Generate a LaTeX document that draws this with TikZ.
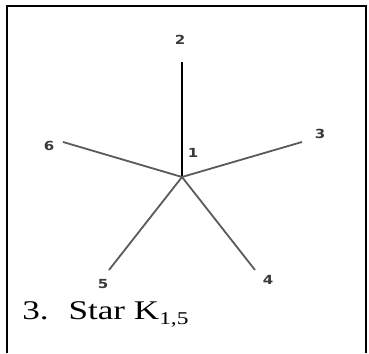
\documentclass[tikz,border=0pt]{standalone}
\usepackage{fontspec}
\setmainfont{Liberation Serif}
\newfontfamily\labfont{DejaVu Sans}
\definecolor{edgegray}{HTML}{5A5A5A}
\definecolor{labgray}{HTML}{3A3A3A}
\begin{document}
\begin{tikzpicture}[x=1pt,y=1pt,
  frame/.style={line width=2pt,black},
  edgeA/.style={line width=1.8pt,black},
  edgeB/.style={line width=1.8pt,edgegray},
  vlabel/.style={font=\labfont\bfseries\fontsize{12.5}{14}\selectfont,text=labgray,inner sep=0pt,xscale=1.2},
  caption/.style={font=\fontsize{27}{30}\selectfont,inner sep=0pt,anchor=base west,xscale=1.3}]
\useasboundingbox (0,0) rectangle (369,353);
\draw[frame] (7,0) -- (7,347) -- (366,347) -- (366,0);
% vertices (y = 353 - pixel row)
\coordinate (c) at (182,176);
\coordinate (n2) at (182,291);
\coordinate (n3) at (302,211);
\coordinate (n4) at (255,83);
\coordinate (n5) at (109,83);
\coordinate (n6) at (63,211);
% edges
\draw[edgeA] (c) -- (n2);
\draw[edgeB] (c) -- (n3);
\draw[edgeB] (c) -- (n4);
\draw[edgeB] (c) -- (n5);
\draw[edgeB] (c) -- (n6);
% labels
\node[vlabel] (l1) at (193,200) {1};
\node[vlabel] (l2) at (180,313) {2};
\node[vlabel] (l3) at (320,219) {3};
\node[vlabel] (l4) at (268,73) {4};
\node[vlabel] (l5) at (103,69) {5};
\node[vlabel] (l6) at (49,207) {6};
% caption
\node[caption] (cap) at (22,33) {3.\hspace{0.57em}Star K\raisebox{-0.17em}{\fontsize{18}{18}\selectfont 1,5}};
\end{tikzpicture}
\end{document}
